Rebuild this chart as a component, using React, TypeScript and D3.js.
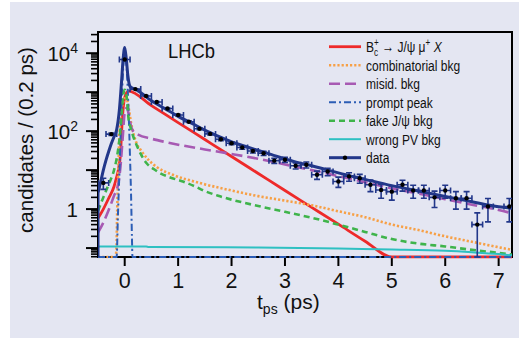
import React from 'react';
import * as d3 from 'd3';

type Pt = [number, number];

// lifetime fit components, [t (ps), candidates / 0.2 ps]
const signalCurve: Pt[] = [
  [-0.5, 0.58], [-0.4, 1.0], [-0.3, 1.9], [-0.2, 3.8], [-0.16, 6], [-0.12, 10], [-0.08, 25],
  [-0.05, 150], [-0.02, 500], [0.03, 950], [0.07, 1070], [0.5, 453], [1.0, 166], [1.5, 61],
  [2.0, 22.4], [2.5, 8.2], [3.0, 3.0], [3.5, 1.11], [4.0, 0.41], [4.5, 0.15], [5.0, 0.055],
  [5.5, 0.02], [6.0, 0.0075], [7.25, 0.001],
];
const combCurve: Pt[] = [
  [-0.5, 0.03], [-0.17, 0.03], [-0.155, 0.1], [-0.14, 1], [-0.12, 10], [-0.1, 80], [-0.08, 250],
  [-0.04, 500], [0.0, 700], [0.04, 650], [0.08, 350], [0.12, 160], [0.16, 90], [0.22, 50],
  [0.32, 30], [0.45, 18], [0.6, 12], [0.9, 7.6], [1.4, 4.7], [2.0, 3.0], [2.5, 2.15], [3.0, 1.65],
  [3.5, 1.25], [4.0, 0.88], [4.5, 0.62], [5.0, 0.4], [5.5, 0.29], [6.0, 0.2], [6.5, 0.145],
  [7.0, 0.105], [7.25, 0.09],
];
const misidCurve: Pt[] = [
  [-0.5, 0.25], [-0.4, 0.45], [-0.3, 0.95], [-0.2, 2.2], [-0.12, 4.5], [-0.08, 12], [-0.04, 60],
  [0.0, 300], [0.04, 400], [0.08, 250], [0.12, 130], [0.16, 100], [0.25, 82], [0.5, 64],
  [0.75, 53], [1.0, 45], [1.5, 34], [2.0, 26], [2.5, 19.5], [3.0, 14], [3.5, 10], [4.0, 7],
  [4.5, 4.9], [5.0, 3.4], [5.5, 2.5], [6.0, 1.8], [6.5, 1.3], [7.0, 0.95], [7.25, 0.78],
];
const promptCurve: Pt[] = [
  [-0.5, 0.03], [-0.16, 0.03], [-0.15, 0.06], [-0.13, 0.5], [-0.1, 8], [-0.07, 150], [-0.04, 2000],
  [-0.02, 6000], [0.0, 9000], [0.02, 8000], [0.04, 3500], [0.07, 400], [0.1, 20], [0.12, 2],
  [0.135, 0.2], [0.145, 0.05], [0.16, 0.03], [7.25, 0.03],
];
const fakeCurve: Pt[] = [
  [-0.5, 0.9], [-0.4, 2.0], [-0.3, 4.3], [-0.2, 10], [-0.15, 20], [-0.1, 60], [-0.06, 250],
  [-0.03, 800], [0.0, 1150], [0.03, 900], [0.07, 220], [0.12, 110], [0.16, 73], [0.22, 45],
  [0.3, 26], [0.41, 15], [0.55, 10.5], [0.66, 8.4], [0.85, 6.5], [1.09, 5.1], [1.3, 3.9],
  [1.5, 2.9], [1.75, 2.2], [2.0, 1.75], [2.5, 1.2], [3.0, 0.85], [3.5, 0.6], [4.0, 0.4],
  [4.5, 0.26], [5.0, 0.17], [5.5, 0.13], [6.0, 0.11], [6.5, 0.09], [7.0, 0.075], [7.25, 0.068],
];
const wrongPVCurve: Pt[] = [
  [-0.5, 0.11], [0.4, 0.11], [0.45, 0.106], [2.5, 0.104], [4.0, 0.097], [5.0, 0.092],
  [6.0, 0.085], [6.5, 0.078], [7.0, 0.07], [7.25, 0.065],
];
const totalCurve: Pt[] = [
  [-0.5, 2.6], [-0.45, 5], [-0.4, 10], [-0.35, 18], [-0.3, 30], [-0.25, 48], [-0.2, 72],
  [-0.15, 110], [-0.1, 350], [-0.06, 1800], [-0.03, 7000], [0.0, 14000], [0.03, 7000],
  [0.06, 2600], [0.1, 1400], [0.15, 1260], [0.25, 1080], [0.5, 600], [0.75, 380], [1.0, 240],
  [1.25, 160], [1.5, 106], [1.75, 74], [2.0, 53], [2.25, 41], [2.5, 32], [2.75, 25], [3.0, 19.5],
  [3.25, 15.5], [3.5, 13], [3.75, 10.5], [4.0, 8.5], [4.5, 5.8], [5.0, 4.0], [5.5, 2.9],
  [6.0, 2.1], [6.5, 1.55], [7.0, 1.15], [7.25, 1.05],
];

// binned data
const dataT = [-0.4, -0.25, 0, 0.2, 0.4, 0.6, 0.8, 1.0, 1.2, 1.4, 1.6, 1.8, 2.0, 2.2, 2.4, 2.6, 2.8,
  3.0, 3.2, 3.4, 3.6, 3.8, 4.0, 4.2, 4.4, 4.6, 4.8, 5.0, 5.2, 5.4, 5.6, 5.8, 6.0, 6.2, 6.4, 6.6, 6.8, 7.2];
const dataN = [4.7, 84, 6900, 1200, 800, 560, 380, 260, 175, 115, 85, 62, 49, 38, 31, 27, 17.5,
  18.5, 13, 13.7, 7.6, 9.2, 5.1, 6.9, 6.2, 4.2, 3.1, 2.8, 4.2, 3.0, 3.0, 2.0, 3.0, 1.9, 1.9, 0.4, 1.17, 1.17];
const dataErr = [1.5, 6, 60, 22, 18, 15, 12, 10, 8.5, 6.5, 5.5, 4.8, 4.2, 3.8, 3.4, 3.2, 2.6,
  2.7, 2.3, 2.4, 1.8, 2.0, 1.5, 1.7, 1.6, 1.4, 1.2, 1.1, 1.3, 1.1, 1.1, 0.9, 1.1, 0.9, 0.9, 0.4, 0.7, 0.7];

const xTicks = [0, 1, 2, 3, 4, 5, 6, 7];
const yLabelExps = [0, 2, 4];
const legendNames = ['signal', 'combinatorial bkg', 'misid. bkg', 'prompt peak', 'fake J/\u03c8 bkg', 'wrong PV bkg', 'data'];

const FONT = "'Liberation Sans', Arial, Helvetica, sans-serif";
const yMin = 0.059, yMax = 35000;

const styles = [
  { color: '#ee2a2a', width: 2.8, dash: '' },
  { color: '#f7a046', width: 2.6, dash: '2.2,2' },
  { color: '#a75ab3', width: 2.6, dash: '11,5' },
  { color: '#2c5db5', width: 2, dash: '7,3,2,3' },
  { color: '#3fb44b', width: 2.6, dash: '6,4' },
  { color: '#2ec0c2', width: 2, dash: '' },
  { color: '#22378a', width: 3, dash: '' },
];

export default function App() {
  const x = d3.scaleLinear().domain([-0.5, 7.25]).range([98, 512]);
  const y = d3.scaleLog().domain([yMin, yMax]).range([257, 32]);
  const line = d3.line<Pt>()
    .x(d => x(d[0]))
    .y(d => y(Math.max(d[1], yMin)))
    .curve(d3.curveMonotoneX);

  const curves = [signalCurve, combCurve, misidCurve, promptCurve, fakeCurve, wrongPVCurve];

  // log axis ticks
  const majors: number[] = [];
  const minors: number[] = [];
  for (let e = -2; e <= 4; e++) {
    const base = Math.pow(10, e);
    if (base >= yMin && base <= yMax) majors.push(base);
    for (let k = 2; k <= 9; k++) {
      const v = k * base;
      if (v >= yMin && v <= yMax) minors.push(v);
    }
  }

  const totalPath = `M${x(-0.5)},${y(yMin)}L` + (line(totalCurve) as string).slice(1);
  const [x0, x1] = x.range();
  const [yb, yt] = y.range();
  const legY = (i: number) => 46.7 + i * 18.5;

  return (
    <svg width={519} height={338} style={{ position: 'absolute', left: 0, top: 0 }} fontFamily={FONT}>
      <rect x={0} y={0} width={519} height={338} fill="#ffffff" />
      <rect x={10} y={2} width={509} height={336} fill="#e4e6f2" />
      <defs>
        <clipPath id="plot">
          <rect x={x0} y={yt} width={x1 - x0} height={yb - yt + 1.5} />
        </clipPath>
      </defs>

      {/* frame */}
      <rect x={x0} y={yt} width={x1 - x0} height={yb - yt} fill="none" stroke="#000" strokeWidth={2} />

      {/* y ticks */}
      {majors.map(v => (
        <line key={'M' + v} x1={x0 - 12} x2={x0} y1={y(v)} y2={y(v)} stroke="#000" strokeWidth={2} />
      ))}
      {minors.map(v => (
        <line key={'m' + v} x1={x0 - 7} x2={x0} y1={y(v)} y2={y(v)} stroke="#000" strokeWidth={1.6} />
      ))}
      {yLabelExps.map(e => (
        <text key={e} x={78} y={y(Math.pow(10, e)) + 8} textAnchor="end" fontSize={20.5} fill="#111">
          {e === 0 ? '1' : '10'}
          {e !== 0 && <tspan dy={-8} fontSize={14}>{e}</tspan>}
        </text>
      ))}

      {/* x ticks */}
      {xTicks.map(t => (
        <g key={t}>
          <line x1={x(t)} x2={x(t)} y1={yb} y2={yb + 9} stroke="#000" strokeWidth={2} />
          <text x={x(t)} y={288} textAnchor="middle" fontSize={21.5} fill="#111">{t}</text>
        </g>
      ))}

      {/* curves */}
      <g clipPath="url(#plot)" fill="none">
        {curves.map((c, i) => (
          <path key={i} d={line(c) as string} stroke={styles[i].color} strokeWidth={styles[i].width}
            strokeDasharray={styles[i].dash || undefined} />
        ))}
        <path d={totalPath} stroke={styles[6].color} strokeWidth={3} />
        {/* data */}
        {dataT.map((t, i) => {
          const v = dataN[i];
          const e = dataErr[i];
          const cx = x(t), cy = y(v);
          const yTop = y(v + e), yBot = y(Math.max(v - e, yMin));
          const xl = x(t - 0.1), xr = x(t + 0.1);
          return (
            <g key={i} stroke={styles[6].color} strokeWidth={1.6}>
              <line x1={xl} x2={xr} y1={cy} y2={cy} />
              <line x1={cx} x2={cx} y1={yTop} y2={yBot} />
              <line x1={cx - 3} x2={cx + 3} y1={yTop} y2={yTop} />
              <line x1={cx - 3} x2={cx + 3} y1={yBot} y2={yBot} />
              <line x1={xl} x2={xl} y1={cy - 3} y2={cy + 3} />
              <line x1={xr} x2={xr} y1={cy - 3} y2={cy + 3} />
              <circle cx={cx} cy={cy} r={2.2} fill="#000" stroke="none" />
            </g>
          );
        })}
      </g>

      {/* LHCb */}
      <text transform="translate(168,58) scale(0.92,1)" fontSize={20} fill="#111">LHCb</text>

      {/* legend */}
      {legendNames.map((name, i) => {
        const s = styles[i];
        const ly = legY(i);
        return (
          <g key={name}>
            <line x1={329} x2={361} y1={ly} y2={ly} stroke={s.color} strokeWidth={s.width}
              strokeDasharray={s.dash || undefined} />
            {i === 6 && <circle cx={345} cy={ly} r={2.2} fill="#000" />}
            <text transform={`translate(366,${ly + 5.5}) scale(0.775,1)`} fontSize={15.5} fill="#111">
              {i === 0 ? (
                <>
                  B<tspan dy={4} fontSize={10.5}>c</tspan>
                  <tspan dx={-5.3} dy={-10.5} fontSize={10.5}>+</tspan>
                  <tspan dy={6.5}>{' \u2192 J/\u03c8 \u03bc'}</tspan>
                  <tspan dy={-6} fontSize={10.5}>+</tspan>
                  <tspan dy={6} fontStyle="italic">{' X'}</tspan>
                </>
              ) : name}
            </text>
          </g>
        );
      })}

      {/* axis titles */}
      <text transform="translate(33,140) rotate(-90)" textAnchor="middle" fontSize={20.5} fill="#111">
        candidates / (0.2 ps)
      </text>
      <text x={257} y={309} fontSize={21} fill="#111">
        t<tspan dy={5} fontSize={14}>ps</tspan><tspan dy={-5}>{' (ps)'}</tspan>
      </text>
    </svg>
  );
}
